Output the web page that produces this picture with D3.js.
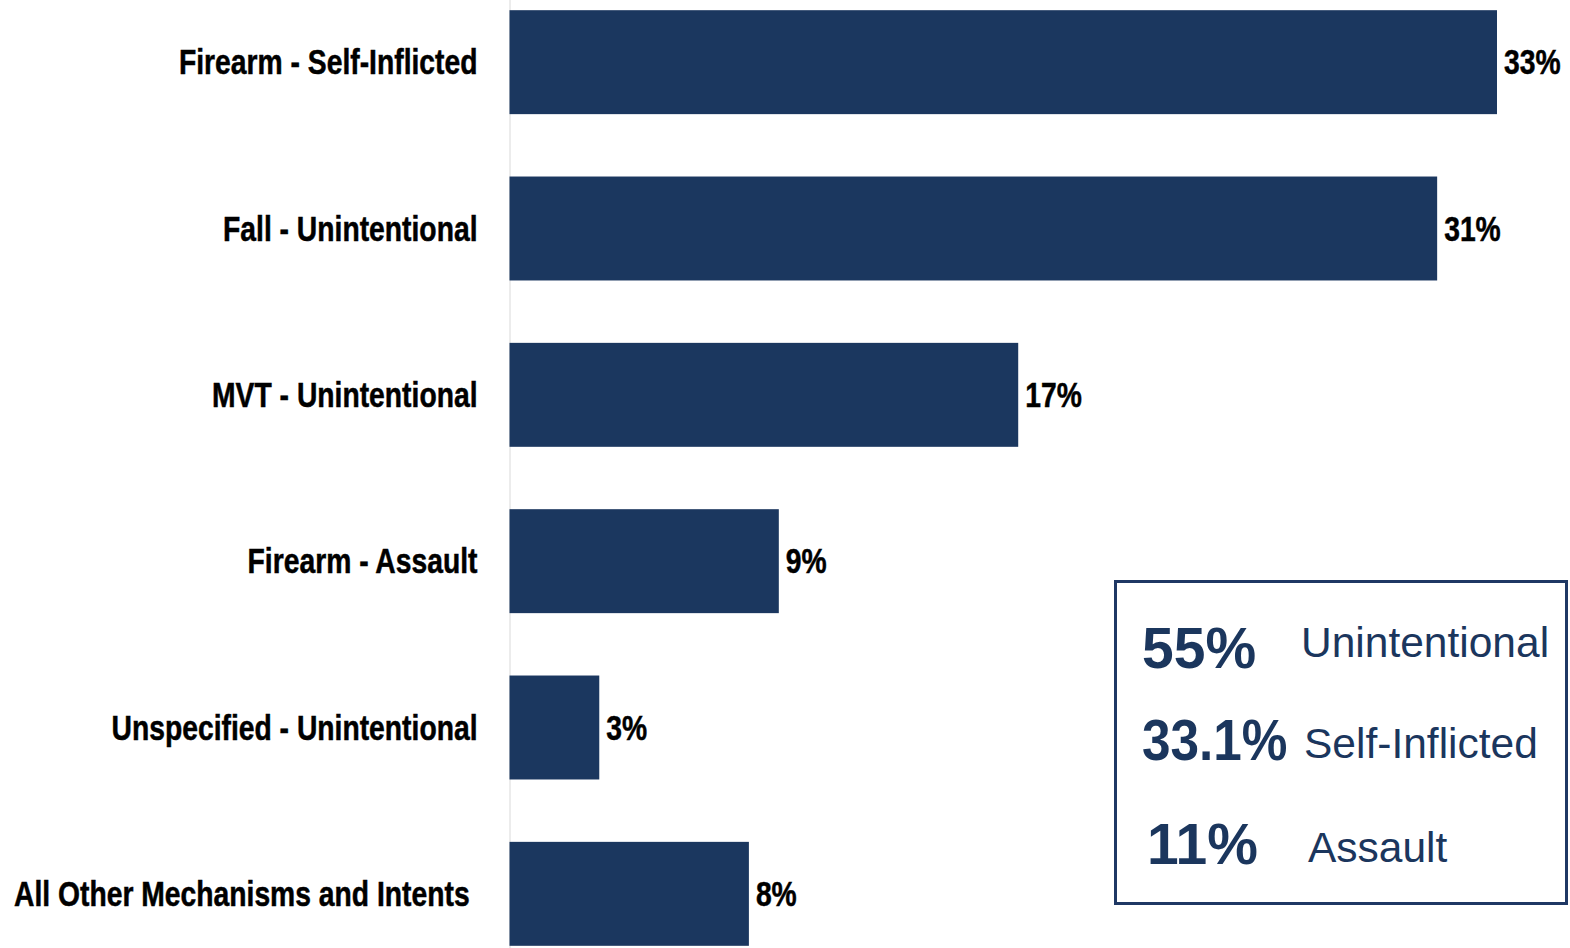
<!DOCTYPE html>
<html>
<head>
<meta charset="utf-8">
<script src="https://cdn.jsdelivr.net/npm/d3@7"></script>
<style>
  html, body { margin: 0; padding: 0; background: #fff; }
  svg { display: block; }
  .box text { font-family: "Liberation Sans", Arial, sans-serif; fill: #1b365d; }
</style>
</head>
<body>
<svg id="chart" width="1570" height="948"></svg>
<script>
// Share of injuries by mechanism and intent
const categories = [
  "Firearm - Self-Inflicted",
  "Fall - Unintentional",
  "MVT - Unintentional",
  "Firearm - Assault",
  "Unspecified - Unintentional",
  "All Other Mechanisms and Intents\u00a0"
];
const shares = [33, 31, 17, 9, 3, 8];

// Summary by intent
const intentShares = ["55%", "33.1%", "11%"];
const intentNames = ["Unintentional", "Self-Inflicted", "Assault"];

const W = 1570, H = 948;
const svg = d3.select("#chart");

// narrow bold face: regular sans squeezed horizontally
const narrow = 0.82;
const labelFont = '"Liberation Sans", Arial, sans-serif';
const labelSize = 34.5;

const x = d3.scaleLinear().domain([0, 33]).range([509.5, 1497]);
const y = d3.scaleBand()
  .domain(categories)
  .range([-21, 977])
  .paddingInner(0.375)
  .paddingOuter(0.1875);

const barColor = "#1b375f";

// category axis
const axis = svg.append("g")
  .attr("transform", `translate(${x(0)},0)`)
  .call(d3.axisLeft(y).tickSize(0).tickSizeOuter(0));
axis.select(".domain").attr("stroke", "#d9d9d9").attr("stroke-width", 1);
axis.selectAll(".tick text")
  .attr("x", -32 / narrow)
  .attr("dy", "0.35em")
  .attr("transform", `scale(${narrow},1)`)
  .attr("font-size", labelSize)
  .attr("font-family", labelFont)
  .attr("font-weight", "bold")
  .attr("fill", "#000")
  .attr("stroke", "#000")
  .attr("stroke-width", 0.5);

const data = categories.map((c, i) => ({ cat: c, v: shares[i] }));

svg.append("g").selectAll("rect")
  .data(data)
  .join("rect")
  .attr("x", x(0))
  .attr("y", d => y(d.cat))
  .attr("width", d => x(d.v) - x(0))
  .attr("height", y.bandwidth())
  .attr("fill", barColor);

svg.append("g").selectAll("text")
  .data(data)
  .join("text")
  .attr("transform", d => `translate(${x(d.v) + 7},${y(d.cat) + y.bandwidth() / 2}) scale(${narrow},1)`)
  .attr("dy", "0.35em")
  .attr("font-size", labelSize)
  .attr("font-family", labelFont)
  .attr("font-weight", "bold")
  .attr("fill", "#000")
  .attr("stroke", "#000")
  .attr("stroke-width", 0.5)
  .text(d => d.v + "%");

// intent summary box
const box = svg.append("g").attr("class", "box");
box.append("rect")
  .attr("x", 1115.5).attr("y", 581.5)
  .attr("width", 451).attr("height", 322)
  .attr("fill", "#fff")
  .attr("stroke", "#1f3864")
  .attr("stroke-width", 3);

const rowsY = [668, 760, 864];
const pctX = [1142, 1142, 1147];
const pctSquash = [1, 0.9, 1];
const nameX = [1301, 1304, 1308];
const nameY = [657, 758, 862];

box.selectAll("text.pct")
  .data(intentShares)
  .join("text")
  .attr("class", "pct")
  .attr("transform", (d, i) => `translate(${pctX[i]},${rowsY[i]}) scale(${pctSquash[i]},1)`)
  .attr("font-size", 57)
  .attr("font-weight", "bold")
  .text(d => d);

box.selectAll("text.name")
  .data(intentNames)
  .join("text")
  .attr("class", "name")
  .attr("x", (d, i) => nameX[i])
  .attr("y", (d, i) => nameY[i])
  .attr("font-size", 42.5)
  .text(d => d);
</script>
</body>
</html>
